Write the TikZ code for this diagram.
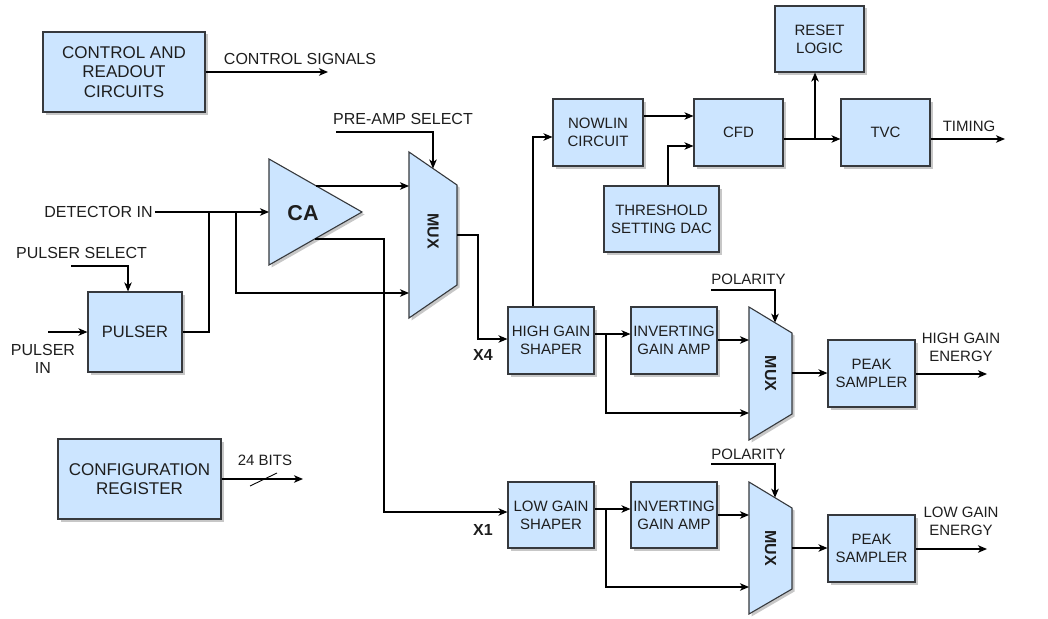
\documentclass[tikz,border=0pt]{standalone}
\usepackage{fontspec}
\setmainfont{Liberation Sans}
\usetikzlibrary{arrows.meta,shadows}
\definecolor{boxfill}{HTML}{CCE5FF}
\definecolor{boxline}{HTML}{36393D}
\definecolor{txt}{HTML}{1E1E1E}
\newcommand\fsz[2]{\fontsize{#1}{#2}\selectfont}
\tikzset{
  shad/.style={drop shadow={shadow xshift=2.5pt, shadow yshift=-2.5pt, fill=black, opacity=0.22}},
  box/.style={draw=boxline, fill=boxfill, line width=1.1pt, inner sep=0pt, align=center,
              text=txt, font=\fsz{15}{18}, shad},
  muxshape/.style={draw=boxline, fill=boxfill, line width=1.1pt, line join=miter, shad},
  lbl/.style={text=txt, inner sep=0pt, align=center, font=\fsz{16}{19}},
  lbls/.style={text=txt, inner sep=0pt, align=center, font=\fsz{15}{18}},
  bl/.style={text=txt, inner sep=0pt, font=\bfseries\fsz{16}{19}},
  wire/.style={draw=black, line width=1.2pt},
  arr/.style={wire, -{Stealth[length=9pt,width=7.5pt,inset=2.5pt]}},
}
\begin{document}
\begin{tikzpicture}[x=1pt,y=-1pt]
\useasboundingbox (0,0) rectangle (1048,618);

% ---------- boxes ----------
\node[box, font=\fsz{17}{19.5}, minimum width=162pt, minimum height=80pt] (ctrl) at (124,72) {CONTROL AND\\READOUT\\CIRCUITS};
\node[box, font=\fsz{16.5}{19}, minimum width=94pt, minimum height=80pt] (pulser) at (135,332) {PULSER};
\node[box, font=\fsz{17}{19}, minimum width=163pt, minimum height=80pt] (config) at (139.5,479) {CONFIGURATION\\REGISTER};
\node[box, minimum width=90pt, minimum height=67pt] (nowlin) at (598,132.5) {NOWLIN\\CIRCUIT};
\node[box, minimum width=89pt, minimum height=67pt] (cfd) at (738.5,132.5) {CFD};
\node[box, minimum width=115pt, minimum height=66pt] (thr) at (661.5,219) {THRESHOLD\\SETTING DAC};
\node[box, minimum width=89pt, minimum height=66pt] (reset) at (819.5,39) {RESET\\LOGIC};
\node[box, minimum width=89pt, minimum height=67pt] (tvc) at (885.5,132.5) {TVC};
\node[box, minimum width=86pt, minimum height=67pt] (hgs) at (551,340.5) {HIGH GAIN\\SHAPER};
\node[box, minimum width=86pt, minimum height=67pt] (inv1) at (674,340.5) {INVERTING\\GAIN AMP};
\node[box, minimum width=87pt, minimum height=67pt] (ps1) at (871.5,373.5) {PEAK\\SAMPLER};
\node[box, minimum width=86pt, minimum height=66pt] (lgs) at (551,515) {LOW GAIN\\SHAPER};
\node[box, minimum width=86pt, minimum height=66pt] (inv2) at (674,515) {INVERTING\\GAIN AMP};
\node[box, minimum width=87pt, minimum height=67pt] (ps2) at (871.5,548.5) {PEAK\\SAMPLER};

% ---------- CA triangle ----------
\path[muxshape] (269,159) -- (362,212) -- (269,265) -- cycle;
\node[text=txt, inner sep=0pt, font=\bfseries\fsz{21.5}{24}] (ca) at (303,213) {CA};
\coordinate (cain) at (269,212);
\coordinate (caout1) at (316,186);
\coordinate (caout2) at (315,239);

% ---------- MUX shapes ----------
\path[muxshape] (409,152) -- (457,185) -- (457,285) -- (409,318) -- cycle;
\node[bl, rotate=-90] (mux1) at (433,231) {MUX};
\path[muxshape] (749,307) -- (792,333) -- (792,414) -- (749,440) -- cycle;
\node[bl, rotate=-90] (mux2) at (770.5,373.5) {MUX};
\path[muxshape] (749,482) -- (792,508) -- (792,589) -- (749,614) -- cycle;
\node[bl, rotate=-90] (mux3) at (770.5,548) {MUX};

\coordinate (m1a) at (409,186);
\coordinate (m1b) at (409,293);
\coordinate (m1s) at (433,168.5);
\coordinate (m1o) at (457,235);
\coordinate (m2a) at (749,340);
\coordinate (m2b) at (749,413);
\coordinate (m2s) at (775,322.7);
\coordinate (m2o) at (792,373);
\coordinate (m3a) at (749,515);
\coordinate (m3b) at (749,587);
\coordinate (m3s) at (775,497.7);
\coordinate (m3o) at (792,548);

% ---------- labels ----------
\node[lbl] (csig) at (300,59) {CONTROL SIGNALS};
\coordinate (csigend) at (328,72);
\node[lbl] (pre) at (403,119) {PRE-AMP SELECT};
\node[lbl] (det) at (98.5,212) {DETECTOR IN};
\node[lbl] (psel) at (81.5,253) {PULSER SELECT};
\node[lbl, font=\fsz{16}{18}] (pin) at (43,359) {PULSER\\IN};
\coordinate (pinstart) at (48,332);
\node[lbls] (bits) at (265,460) {24 BITS};
\coordinate (bitsend) at (303,479);
\node[bl] (x4) at (483,355) {X4};
\node[bl] (x1) at (483,530) {X1};
\node[lbls] (timing) at (969,126) {TIMING};
\coordinate (timend) at (1005,139);
\node[lbls] (hge) at (961,347) {HIGH GAIN\\ENERGY};
\coordinate (hgend) at (987,374);
\node[lbls] (lge) at (961,521) {LOW GAIN\\ENERGY};
\coordinate (lgend) at (987,549);
\node[lbls] (pol1) at (748.5,279) {POLARITY};
\node[lbls] (pol2) at (748.5,454) {POLARITY};

% ---------- connectors ----------
\draw[arr] (ctrl.east |- csigend) -- (csigend);
\draw[arr] (336,132) -- (433,132) -- (m1s);
\draw[arr] (det.east) ++(2,0) -- (cain);
\draw[wire] (pulser.east |- 0,332) -- (209,332) -- (209,212);
\draw[arr] (236,212) -- (236,293) -- (m1b);
\draw[arr] (71,266) -- (128,266) -- (pulser.north -| 128,0);
\draw[arr] (pinstart) -- (pulser.west |- pinstart);
\draw[arr] (config.east |- bitsend) -- (bitsend);
\draw[wire, line width=0.9pt] (250,486) -- (277,473);

\draw[arr] (caout1) -- (m1a);
\draw[arr] (caout2) -- (384,239) -- (384,512) -- (lgs.west |- 0,512);
\draw[arr] (m1o) -- (478,235) -- (478,339) -- (hgs.west |- 0,339);

\draw[arr] (hgs.north -| 533,0) -- (533,137) -- (nowlin.west |- 0,137);
\draw[arr] (nowlin.east |- 0,116) -- (cfd.west |- 0,116);
\draw[arr] (thr.north -| 668,0) -- (668,146) -- (cfd.west |- 0,146);
\draw[arr] (cfd.east |- 0,139) -- (tvc.west |- 0,139);
\draw[arr] (815,139) -- (reset.south -| 815,0);
\draw[arr] (tvc.east |- timend) -- (timend);

\draw[arr] (hgs.east |- 0,334) -- (inv1.west |- 0,334);
\draw[arr] (606,334) -- (606,413) -- (m2b);
\draw[arr] (inv1.east |- m2a) -- (m2a);
\draw[arr] (711,290) -- (775,290) -- (m2s);
\draw[arr] (m2o) -- (ps1.west |- m2o);
\draw[arr] (ps1.east |- hgend) -- (hgend);

\draw[arr] (lgs.east |- 0,509) -- (inv2.west |- 0,509);
\draw[arr] (606,509) -- (606,587) -- (m3b);
\draw[arr] (inv2.east |- m3a) -- (m3a);
\draw[arr] (711,464) -- (775,464) -- (m3s);
\draw[arr] (m3o) -- (ps2.west |- m3o);
\draw[arr] (ps2.east |- lgend) -- (lgend);
\end{tikzpicture}
\end{document}
